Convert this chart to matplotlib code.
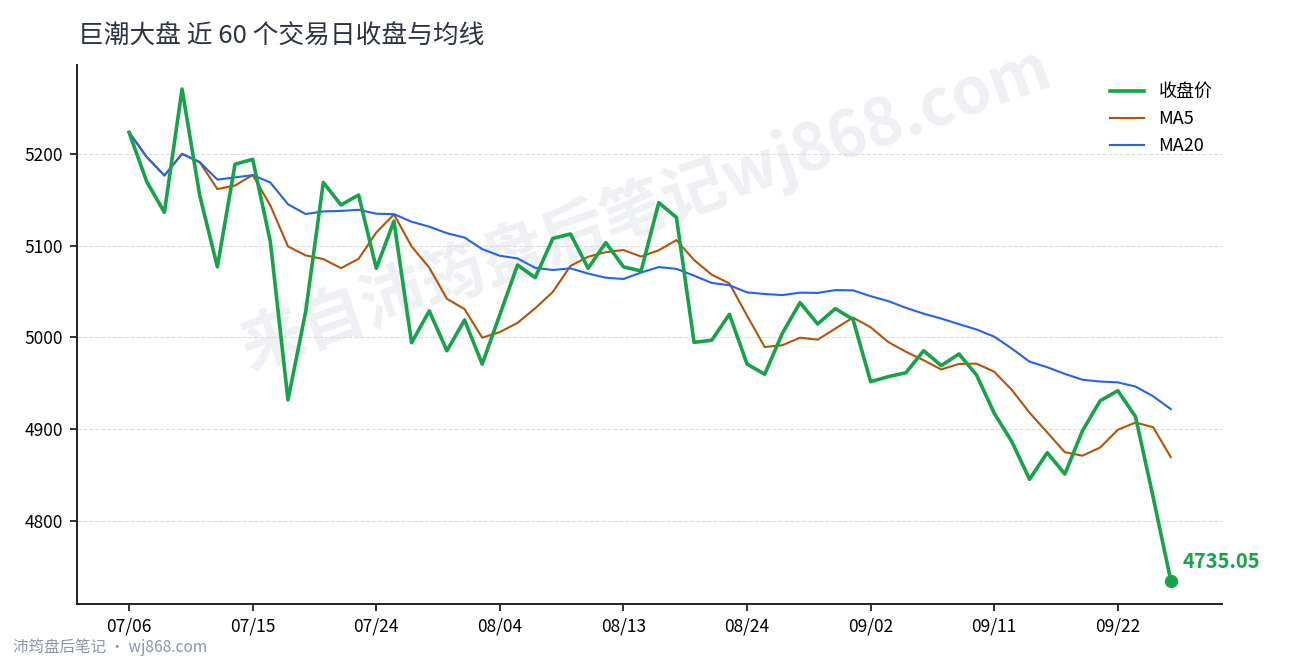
import matplotlib
matplotlib.use("Agg")
import matplotlib.pyplot as plt
import numpy as np
import pandas as pd

plt.rcParams["font.family"] = ["Noto Sans CJK SC", "DejaVu Sans"]

# 60 trading days, 2026-07-06 .. 2026-09-25
dates = pd.bdate_range("2026-07-06", periods=60)
close = [
    5223.6, 5169.8, 5136.4, 5270.8, 5155.0, 5077.0, 5188.8, 5194.2, 5104.4, 4931.9,
    5028.0, 5169.0, 5144.4, 5155.3, 5075.4, 5126.8, 4994.3, 5028.9, 4985.6, 5019.0,
    4971.0, 5025.0, 5079.0, 5065.2, 5108.0, 5112.8, 5075.4, 5103.4, 5077.0, 5072.5,
    5147.0, 5130.8, 4994.7, 4997.0, 5025.3, 4971.0, 4959.9, 5004.6, 5038.0, 5014.7,
    5031.4, 5019.8, 4951.8, 4957.3, 4961.6, 4985.6, 4969.3, 4982.0, 4959.0, 4917.4,
    4886.4, 4845.4, 4874.4, 4851.2, 4898.4, 4931.0, 4942.0, 4913.7, 4826.0, 4735.05,
]
yticks = [4800, 4900, 5000, 5100, 5200]
xtick_idx = list(range(0, 60, 7))

s = pd.Series(close)
ma5 = s.rolling(5, min_periods=1).mean()
ma20 = s.rolling(20, min_periods=1).mean()
x = np.arange(len(close))

GREEN = "#16a34a"
ORANGE = "#b45309"
BLUE = "#2563eb"

fig = plt.figure(figsize=(12.9, 6.6), dpi=100)
fig.set_facecolor("w")
ax = fig.add_axes([77 / 1290, 56 / 660, 1145 / 1290, 539 / 660])

# watermark
ax.text(0.497, 0.735, "来自沛筠盘后笔记wj868.com", transform=ax.transAxes,
        rotation=19.5, ha="center", va="center", fontsize=46,
        fontweight="bold", color="#eef0f4", zorder=0.3)

ax.plot(x, close, color=GREEN, lw=2.6, label="收盘价", zorder=4)
ax.plot(x, ma5, color=ORANGE, lw=1.5, label="MA5", zorder=3)
ax.plot(x, ma20, color=BLUE, lw=1.5, label="MA20", zorder=3)
ax.plot(x[-1], close[-1], "o", color=GREEN, ms=8.5, zorder=5)
ax.annotate(f"{close[-1]:.2f}", xy=(x[-1], close[-1]), xytext=(12, 19),
            textcoords="offset pixels", ha="left", va="center",
            fontsize=14.5, fontweight="bold", color=GREEN)

ax.set_xlim(-2.95, 61.9)
ax.set_ylim(4709.5, 5297)
ax.set_yticks(yticks)
ax.set_xticks(xtick_idx)
ax.set_xticklabels([dates[i].strftime("%m/%d") for i in xtick_idx])
ax.tick_params(labelsize=12.5, length=5, width=1.3, color="#222222", pad=5)
ax.grid(axis="y", linestyle="--", color="#dddddd", lw=0.8)
ax.set_axisbelow(True)
for side in ["top", "right"]:
    ax.spines[side].set_visible(False)
for side in ["left", "bottom"]:
    ax.spines[side].set_linewidth(1.4)
    ax.spines[side].set_color("#222222")

ax.legend(loc="upper right", frameon=False, fontsize=13,
          bbox_to_anchor=(1.006, 0.997), handlelength=1.9, labelspacing=0.5)

fig.text(78 / 1290, 1 - 37 / 660, "巨潮大盘 近 60 个交易日收盘与均线",
         fontsize=18.5, color="#2d3340", ha="left", va="center")
fig.text(13 / 1290, 1 - 647 / 660, "沛筠盘后笔记 · wj868.com",
         fontsize=11.2, color="#8c96a8", ha="left", va="center")

fig.savefig("out.png", dpi=100)
